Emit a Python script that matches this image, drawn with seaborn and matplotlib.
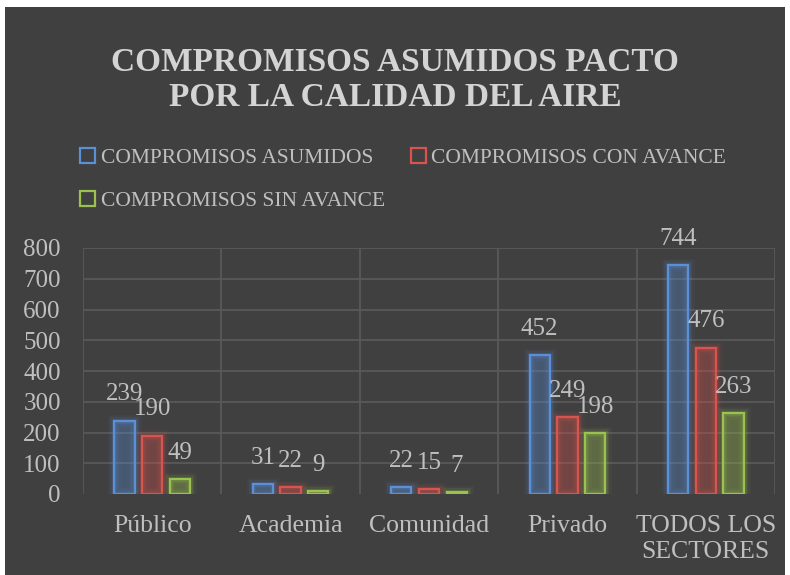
import numpy as np
import pandas as pd
import matplotlib
matplotlib.use("Agg")
import matplotlib.pyplot as plt
import matplotlib.patheffects as pe
from matplotlib.colors import to_rgb
from matplotlib.patches import Patch, Rectangle
import seaborn as sns

# data
sectores = ["Público", "Academia", "Comunidad", "Privado", "TODOS LOS\nSECTORES"]
series = ["COMPROMISOS ASUMIDOS", "COMPROMISOS CON AVANCE", "COMPROMISOS SIN AVANCE"]
asumidos = [239, 31, 22, 452, 744]
con_avance = [190, 22, 15, 249, 476]
sin_avance = [49, 9, 7, 198, 263]
colores = ["#5b8fd6", "#d9534f", "#9bc24f"]
y_ticks = [0, 100, 200, 300, 400, 500, 600, 700, 800]

df = pd.DataFrame({
    "sector": sectores * 3,
    "serie": np.repeat(series, len(sectores)),
    "valor": asumidos + con_avance + sin_avance,
})

BG = "#404040"
TXT = "#bfbfbf"
GRID = "#595959"

sns.set_style("dark")
plt.rcParams["font.family"] = ["Liberation Serif", "DejaVu Serif"]

fig = plt.figure(figsize=(7.9, 5.75), dpi=100, facecolor="white")
# dark chart area with small white margin (top/left/right)
fig.patches.append(Rectangle((5 / 790, 0), 780 / 790, 1 - 7 / 575,
                             transform=fig.transFigure, facecolor=BG,
                             edgecolor="none", zorder=-10))

ax = fig.add_axes([83 / 790, 1 - 494 / 575, (775 - 83) / 790, (494 - 248) / 575])
ax.set_facecolor(BG)

sns.barplot(data=df, x="sector", y="valor", hue="serie", hue_order=series,
            palette=colores, width=0.6, gap=0.27, legend=False, ax=ax, zorder=3)

for cont, col in zip(ax.containers, colores):
    r, g, b = to_rgb(col)
    for bar in cont:
        bar.set_facecolor((r, g, b, 0.08))
        bar.set_edgecolor((r, g, b, 1.0))
        bar.set_linewidth(1.6)
        # soft glow around the outline
        bar.set_path_effects([pe.Stroke(linewidth=9, foreground=col, alpha=0.06),
                              pe.Stroke(linewidth=6, foreground=col, alpha=0.1),
                              pe.Stroke(linewidth=3.5, foreground=col, alpha=0.15),
                              pe.Normal()])
    ax.bar_label(cont, padding=11, color=TXT, fontsize=18)

ax.set_ylim(0, 800)
ax.set_xlim(-0.5, len(sectores) - 0.5)
ax.set_yticks(y_ticks)
ax.grid(False)
for yv in y_ticks[1:]:
    ax.axhline(yv, color=GRID, lw=1.3, zorder=1)
for xv in np.arange(-0.5, len(sectores), 1.0):
    ax.axvline(xv, color=GRID, lw=1.3, zorder=1)
for s in ax.spines.values():
    s.set_visible(False)

ax.tick_params(axis="y", length=0, pad=16, labelsize=18, labelcolor=TXT)
ax.tick_params(axis="x", length=0, pad=15, labelsize=18.5, labelcolor=TXT)
for t in ax.get_xticklabels():
    t.set_linespacing(1.25)
ax.set_xlabel("")
ax.set_ylabel("")

fig.text(0.5, 1 - 80 / 575, "COMPROMISOS ASUMIDOS PACTO\nPOR LA CALIDAD DEL AIRE",
         ha="center", va="center", fontsize=24, fontweight="bold",
         color="#d4d4d4", linespacing=1.15)

handles = [Patch(facecolor="none", edgecolor=c, linewidth=1.6) for c in colores]
order = [0, 2, 1]
fig.legend([handles[i] for i in order], [series[i] for i in order],
           loc="upper left", bbox_to_anchor=(61 / 790, 1 - 129 / 575), ncol=2,
           frameon=False, fontsize=15.5, labelcolor=TXT, handlelength=0.7,
           handleheight=0.7, handletextpad=0.25, columnspacing=1.2,
           labelspacing=1.05)

fig.savefig("out.png", dpi=100, facecolor="white")
